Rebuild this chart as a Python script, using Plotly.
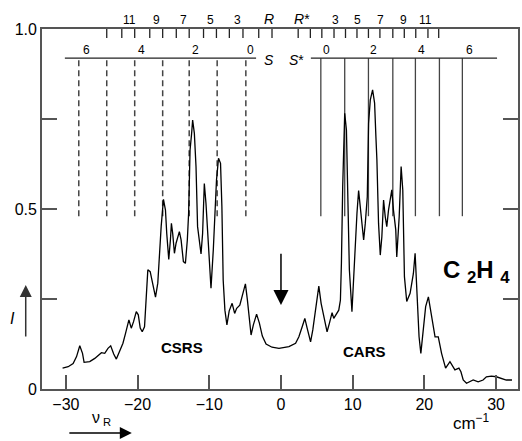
import plotly.graph_objects as go

# ---- spectrum (Raman shift in cm^-1, intensity) ----
shift = [-30.46, -29.68, -28.99, -28.51, -28.06, -27.68, -27.46, -26.67, -25.97, -25.04,
         -24.58, -24.13, -23.75, -23.33, -22.96, -22.50, -22.04, -21.67, -21.21, -20.88,
         -20.56, -20.18, -19.90, -19.63, -19.35, -19.03, -18.79, -18.57, -18.24, -17.88,
         -17.50, -17.18, -16.94, -16.71, -16.39, -16.11, -15.93, -15.65, -15.42, -15.28,
         -15.10, -14.86, -14.63, -14.40, -14.17, -13.93, -13.61, -13.33, -13.06, -12.88,
         -12.68, -12.46, -12.32, -12.08, -11.85, -11.63, -11.39, -11.15, -10.93, -10.69,
         -10.46, -10.10, -9.76, -9.44, -9.17, -8.99, -8.71, -8.43, -8.24, -8.06,
         -7.82, -7.54, -7.22, -6.81, -6.46, -6.18, -5.74, -5.35, -4.96, -4.68,
         -4.44, -4.17, -3.85, -3.40, -3.01, -2.60, -2.08, -1.25, -0.28, 1.11,
         2.04, 2.50, 2.96, 3.33, 3.65, 4.13, 4.44, 4.82, 5.28, 5.60,
         5.97, 6.43, 6.76, 7.13, 7.36, 7.68, 8.06, 8.29, 8.43, 8.61,
         8.89, 9.13, 9.35, 9.54, 9.90, 10.18, 10.38, 10.60, 10.83, 11.07,
         11.29, 11.53, 11.76, 12.04, 12.22, 12.46, 12.78, 13.06, 13.24, 13.38,
         13.61, 13.85, 14.07, 14.31, 14.54, 14.76, 15.00, 15.24, 15.46, 15.69,
         16.01, 16.15, 16.49, 16.76, 16.99, 17.22, 17.54, 18.01, 18.47, 18.71,
         18.93, 19.26, 19.51, 19.86, 20.18, 20.56, 20.93, 21.49, 21.94, 22.40,
         22.96, 23.57, 24.26, 24.82, 25.10, 25.42, 25.88, 26.81, 27.50, 28.19,
         28.65, 29.35, 30.04, 30.74, 31.43, 32.22]
intensity = [0.058, 0.062, 0.071, 0.090, 0.120, 0.099, 0.074, 0.076, 0.085, 0.101,
             0.099, 0.113, 0.120, 0.097, 0.083, 0.104, 0.127, 0.155, 0.192, 0.169,
             0.187, 0.215, 0.206, 0.169, 0.159, 0.173, 0.247, 0.331, 0.326, 0.289,
             0.255, 0.294, 0.386, 0.451, 0.527, 0.497, 0.432, 0.360, 0.414, 0.460,
             0.432, 0.377, 0.405, 0.419, 0.437, 0.414, 0.354, 0.349, 0.414, 0.488,
             0.664, 0.710, 0.747, 0.710, 0.618, 0.451, 0.405, 0.375, 0.432, 0.571,
             0.516, 0.386, 0.280, 0.386, 0.525, 0.581, 0.641, 0.627, 0.506, 0.303,
             0.219, 0.178, 0.217, 0.238, 0.210, 0.224, 0.233, 0.266, 0.292, 0.247,
             0.197, 0.150, 0.178, 0.208, 0.183, 0.147, 0.125, 0.116, 0.113, 0.118,
             0.127, 0.145, 0.173, 0.196, 0.169, 0.131, 0.164, 0.219, 0.286, 0.238,
             0.201, 0.159, 0.183, 0.212, 0.196, 0.206, 0.219, 0.247, 0.349, 0.562,
             0.766, 0.719, 0.534, 0.331, 0.215, 0.331, 0.432, 0.488, 0.551, 0.497,
             0.460, 0.414, 0.460, 0.534, 0.738, 0.803, 0.831, 0.794, 0.701, 0.636,
             0.460, 0.372, 0.423, 0.525, 0.479, 0.451, 0.497, 0.530, 0.553, 0.497,
             0.442, 0.367, 0.479, 0.618, 0.553, 0.312, 0.243, 0.266, 0.321, 0.377,
             0.275, 0.145, 0.099, 0.173, 0.229, 0.256, 0.210, 0.145, 0.145, 0.099,
             0.058, 0.076, 0.053, 0.058, 0.048, 0.025, 0.016, 0.025, 0.020, 0.025,
             0.034, 0.036, 0.034, 0.030, 0.025, 0.025]

# ---- line positions (cm^-1) ----
s_lines = [-28.2, -24.3, -20.4, -16.5, -12.8, -8.9, -4.9]          # S branch (CSRS), dashed
s_star_lines = [5.56, 8.89, 12.2, 15.6, 18.75, 22.1, 25.3]          # S* branch (CARS), solid
r_ticks = [-24.3, -22.2, -20.4, -18.3, -16.5, -14.6, -12.8, -10.8, -9.0, -7.2, -5.3, -3.1, -1.25]
r_star_ticks = [2.4, 4.1, 5.7, 7.4, 9.0, 10.6, 12.2, 13.8, 15.6, 17.2, 18.8, 20.5, 22.0]

s_labels = ["6", "4", "2", "0"]
s_label_x = [-27.08, -19.49, -11.94, -4.21]
s_star_labels = ["0", "2", "4", "6"]
s_star_label_x = [6.39, 12.92, 19.54, 26.25]
r_labels = ["11", "9", "7", "5", "3"]
r_label_x = [-21.11, -17.4, -13.61, -9.76, -6.07]
r_star_labels = ["3", "5", "7", "9", "11"]
r_star_label_x = [7.6, 10.69, 13.85, 17.08, 20.1]

line_bottom = 0.48
s_axis_y = 0.919
s_axis_left = [-30.14, -3.47]
s_axis_right = [4.17, 30.14]
r_tick_len = 0.025

x_range = [-33.33, 33.06]
FONT = "Arial, Liberation Sans, sans-serif"
GRAY = "#555555"


def vsegments(xs, y0, y1):
    X, Y = [], []
    for x in xs:
        X += [x, x, None]
        Y += [y0, y1, None]
    return X, Y


def to_paper(x):
    return (x - x_range[0]) / (x_range[1] - x_range[0])


fig = go.Figure()

# dashed S lines
X, Y = vsegments(s_lines, line_bottom, s_axis_y)
fig.add_trace(go.Scatter(x=X, y=Y, mode="lines",
                         line=dict(color="#444444", width=1.5, dash="6px,4px"),
                         hoverinfo="skip", showlegend=False))
# solid S* lines
X, Y = vsegments(s_star_lines, line_bottom, s_axis_y)
fig.add_trace(go.Scatter(x=X, y=Y, mode="lines",
                         line=dict(color="#444444", width=1.3),
                         hoverinfo="skip", showlegend=False))
# S axes lines
fig.add_trace(go.Scatter(x=s_axis_left + [None] + s_axis_right,
                         y=[s_axis_y, s_axis_y, None, s_axis_y, s_axis_y],
                         mode="lines", line=dict(color="#222222", width=1.3),
                         hoverinfo="skip", showlegend=False))
# R ticks hanging from top frame
X, Y = vsegments(r_ticks + r_star_ticks, 1.0, 1.0 - r_tick_len)
fig.add_trace(go.Scatter(x=X, y=Y, mode="lines",
                         line=dict(color="#222222", width=1.3),
                         hoverinfo="skip", showlegend=False))
# spectrum
fig.add_trace(go.Scatter(x=shift, y=intensity, mode="lines",
                         line=dict(color="black", width=1.3),
                         hoverinfo="skip", showlegend=False))

P = dict(xref="paper", yref="paper", showarrow=False, xanchor="center", yanchor="middle")
ann = []
for t, x in zip(s_labels + s_star_labels, s_label_x + s_star_label_x):
    ann.append(dict(x=x, y=0.942, text=t, showarrow=False, font=dict(size=12)))
for t, x in zip(r_labels + r_star_labels, r_label_x + r_star_label_x):
    ann.append(dict(x=to_paper(x), y=1.025, text=t, font=dict(size=12), **P))
ann += [
    dict(x=to_paper(-1.67), y=1.028, text="<i>R</i>", font=dict(size=14), **P),
    dict(x=to_paper(3.0), y=1.028, text="<i>R</i>*", font=dict(size=14), **P),
    dict(x=-1.67, y=0.915, text="<i>S</i>", showarrow=False, font=dict(size=14)),
    dict(x=2.1, y=0.915, text="<i>S</i>*", showarrow=False, font=dict(size=14)),
    dict(x=-13.75, y=0.114, text="<b>CSRS</b>", showarrow=False, font=dict(size=15)),
    dict(x=11.67, y=0.103, text="<b>CARS</b>", showarrow=False, font=dict(size=15)),
    dict(x=27.3, y=0.326, text="<b>C <sub>2</sub>H <sub>4</sub></b>", showarrow=False,
         font=dict(size=24)),
    # down arrow at 0
    dict(x=0, y=0.233, ax=0, ay=0.38, axref="x", ayref="y", xref="x", yref="y",
         showarrow=True, arrowhead=2, arrowsize=2.0, arrowwidth=1.5, arrowcolor="black", text=""),
    # intensity arrow and label
    dict(x=to_paper(-35.6), y=0.289, ax=0, ay=53, xref="paper", yref="paper",
         showarrow=True, arrowhead=2, arrowsize=1.6, arrowwidth=1.5, arrowcolor="#333333", text=""),
    dict(x=to_paper(-37.4), y=0.197, text="<i>I</i>", font=dict(size=16), **P),
    # nu_R arrow and label
    dict(x=to_paper(-20.8), y=-0.122, ax=-64, ay=0, xref="paper", yref="paper",
         showarrow=True, arrowhead=2, arrowsize=1.6, arrowwidth=1.5, arrowcolor="black", text=""),
    dict(x=to_paper(-25.0), y=-0.082, text="ν<sub> R</sub>", font=dict(size=16), **P),
    dict(x=to_paper(26.6), y=-0.092, text="cm<sup>−1</sup>", font=dict(size=17), **P),
]

fig.update_layout(
    width=522, height=441,
    margin=dict(l=42, r=2, t=29, b=52),
    paper_bgcolor="white", plot_bgcolor="white",
    font=dict(family=FONT, color="black", size=16),
    annotations=ann,
    showlegend=False,
)
fig.update_xaxes(range=x_range, tickvals=[-30, -20, -10, 0, 10, 20, 30],
                 ticks="inside", ticklen=14, tickwidth=1.5, tickcolor=GRAY,
                 showline=True, linecolor=GRAY, linewidth=1.8, mirror=True,
                 showgrid=False, zeroline=False, tickfont=dict(size=16))
fig.update_yaxes(range=[0, 1.0], tickvals=[0, 0.25, 0.5, 0.75, 1.0],
                 ticktext=["0", "", "0.5", "", "1.0"],
                 ticks="inside", ticklen=15, tickwidth=1.5, tickcolor=GRAY,
                 showline=True, linecolor=GRAY, linewidth=1.8, mirror="ticks",
                 showgrid=False, zeroline=False, tickfont=dict(size=16),
                 ticklabelstandoff=0)

fig.write_html("out.html")
